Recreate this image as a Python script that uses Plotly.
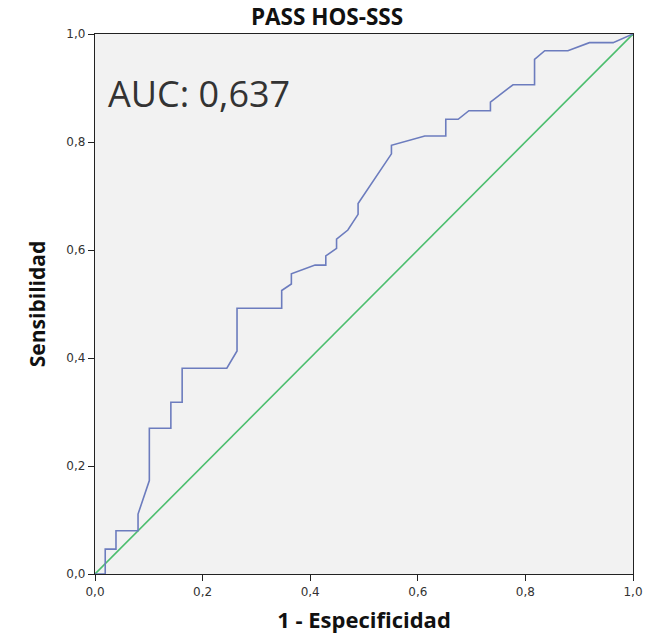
import plotly.graph_objects as go

fpr = [0, 0.019, 0.019, 0.039, 0.039, 0.080, 0.080, 0.101, 0.101, 0.141, 0.141,
       0.162, 0.162, 0.245, 0.264, 0.264, 0.347, 0.347, 0.365, 0.365, 0.409,
       0.429, 0.429, 0.449, 0.449, 0.470, 0.489, 0.489, 0.551, 0.551, 0.613,
       0.652, 0.652, 0.675, 0.695, 0.735, 0.735, 0.777, 0.817, 0.817, 0.836,
       0.879, 0.919, 0.963, 1.0]
tpr = [0, 0, 0.046, 0.046, 0.080, 0.080, 0.111, 0.173, 0.270, 0.270, 0.318,
       0.318, 0.381, 0.381, 0.413, 0.492, 0.492, 0.525, 0.537, 0.556, 0.572,
       0.572, 0.589, 0.603, 0.620, 0.637, 0.666, 0.686, 0.778, 0.794, 0.811,
       0.811, 0.842, 0.842, 0.858, 0.858, 0.874, 0.906, 0.906, 0.953, 0.969,
       0.969, 0.984, 0.984, 1.0]
ref_x = [0, 1]
ref_y = [0, 1]
tick_vals = [0, 0.2, 0.4, 0.6, 0.8, 1.0]

title = "PASS HOS-SSS"
x_title = "1 - Especificidad"
y_title = "Sensibilidad"
auc_text = "AUC: 0,637"

fig = go.Figure()
fig.add_trace(go.Scatter(x=ref_x, y=ref_y, mode="lines",
                         line=dict(color="rgb(76,190,110)", width=1.6),
                         hoverinfo="skip", showlegend=False))
fig.add_trace(go.Scatter(x=fpr, y=tpr, mode="lines",
                         line=dict(color="rgb(108,124,190)", width=1.6),
                         showlegend=False))

axis_common = dict(range=[0, 1], tickvals=tick_vals, tickformat=".1f",
                   showgrid=False, zeroline=False, showline=True,
                   linecolor="#222", linewidth=1.3, mirror=True,
                   ticks="outside", ticklen=6, tickcolor="#222",
                   automargin=False,
                   tickfont=dict(family="DejaVu Sans", size=12, color="#333"))

fig.update_layout(
    width=671, height=640,
    margin=dict(l=95, r=38, t=34, b=66),
    paper_bgcolor="white", plot_bgcolor="#f2f2f2",
    separators=",.",
    title=dict(text="<b>" + title + "</b>", x=327 / 671, xanchor="center",
               xref="container", y=1 - 17 / 640, yanchor="middle",
               font=dict(family="Open Sans", size=22.5, color="#111")),
    xaxis=dict(**axis_common,
               title=dict(text="<b>" + x_title + "</b>", standoff=15,
                          font=dict(family="Open Sans", size=22, color="#111"))),
    yaxis=dict(**axis_common,
               title=dict(text="<b>" + y_title + "</b>", standoff=15,
                          font=dict(family="Open Sans", size=21, color="#111"))),
    annotations=[dict(text=auc_text, x=0.02, y=0.89, xref="x", yref="y",
                      xanchor="left", yanchor="middle", showarrow=False,
                      font=dict(family="Open Sans", size=36, color="#333"))],
)

fig.write_html("out.html")
